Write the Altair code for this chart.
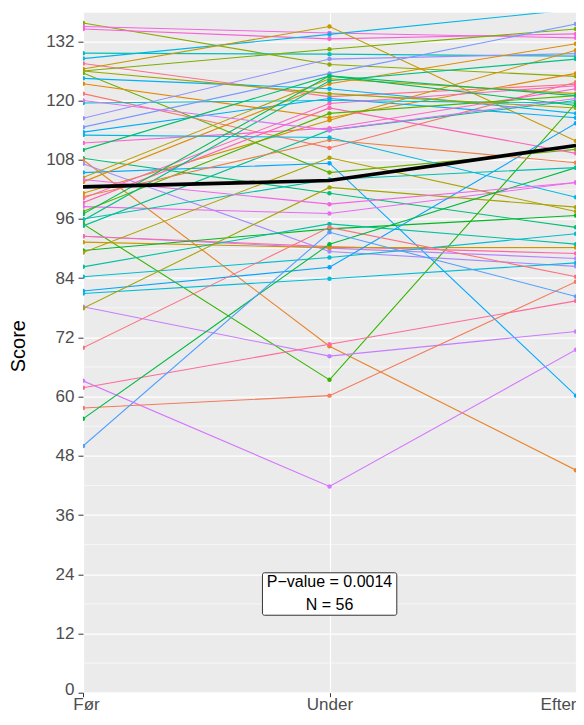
import math
import altair as alt
import pandas as pd

# ---------------- data ----------------
TIMES = ["Før", "Under", "Efter"]

# participant id (ggplot hue-palette index) and score at each time
IDS = [13, 47, 48, 32, 27, 54, 8, 14, 15, 33,
       4, 0, 28, 38, 39, 34, 49, 22, 3, 40,
       35, 9, 5, 6, 50, 51, 45, 16, 23, 17,
       24, 41, 52, 7, 18, 10, 25, 29, 36, 30,
       42, 11, 55, 43, 53, 1, 19, 37, 12, 20,
       26, 2, 31, 46, 44, 21]
FOER = [135.7, 135.0, 134.5, 128.5, 129.6, 127.5, 126.4, 126.0, 125.6, 124.5,
        123.4, 121.4, 119.5, 114.6, 116.4, 113.6, 111.4, 108.3, 108.0, 107.2,
        105.4, 104.4, 103.5, 101.2, 100.2, 99.3, 98.5, 97.5, 95.7, 95.0,
        94.6, 92.5, 92.5, 91.3, 89.6, 89.2, 86.3, 84.3, 81.4, 80.9,
        78.2, 77.9, 69.9, 63.2, 61.8, 57.7, 55.5, 50.0, 126.0, 97.0,
        96.0, 100.5, 113.0, 104.0, 120.0, 110.0]
UNDER = [127.3, 133.7, 132.5, 133.4, 129.4, 120.8, 135.0, 130.4, 105.4, 122.4,
         116.5, 110.4, 120.0, 125.5, 128.4, 120.4, 114.4, 101.2, 70.2, 89.4,
         107.3, 124.4, 123.4, 116.0, 119.4, 118.5, 97.1, 117.4, 124.0, 63.4,
         114.0, 90.1, 90.4, 90.2, 94.0, 108.4, 95.0, 88.2, 86.2, 83.9,
         68.2, 102.4, 94.3, 41.8, 70.6, 60.2, 90.9, 93.3, 121.4, 125.0,
         104.0, 112.0, 112.5, 99.0, 114.0, 125.0]
EFTER = [124.9, 132.7, 133.5, 138.5, 129.0, 123.3, 111.8, 134.5, 110.1, 117.4,
         125.5, 123.7, 119.5, 135.5, 129.5, 116.5, 122.4, 94.3, 45.1, 86.4,
         60.2, 121.4, 131.5, 130.2, 123.0, 109.3, 103.4, 121.0, 128.4, 119.5,
         120.0, 88.0, 89.0, 90.2, 96.7, 97.5, 90.9, 93.0, 115.4, 87.1,
         73.2, 98.4, 84.3, 69.5, 79.4, 83.3, 106.4, 80.3, 118.5, 119.0,
         106.4, 107.4, 100.4, 103.4, 120.4, 121.0]
MEAN = [102.5, 103.8, 110.9]

Y_TICKS = [0, 12, 24, 36, 48, 60, 72, 84, 96, 108, 120, 132]
Y_MINOR = [6, 18, 30, 42, 54, 66, 78, 90, 102, 114, 126]
LABEL_LINES = ["P\u2212value = 0.0014", "N = 56"]
LABEL_Y = [22.4, 17.8]
BOX_X = [0.728, 1.273]
BOX_Y = [15.7, 24.3]


# ---------------- ggplot2 hue palette ----------------
def hcl_hex(h, c=100.0, l=65.0):
    hr = math.radians(h)
    u = c * math.cos(hr)
    v = c * math.sin(hr)
    xn, yn, zn = 95.047, 100.0, 108.883
    den = xn + 15 * yn + 3 * zn
    un, vn = 4 * xn / den, 9 * yn / den
    Y = yn * ((l + 16) / 116) ** 3
    up = u / (13 * l) + un
    vp = v / (13 * l) + vn
    X = Y * 9 * up / (4 * vp)
    Z = Y * (12 - 3 * up - 20 * vp) / (4 * vp)
    x, y, z = X / 100, Y / 100, Z / 100
    rgb = [3.240479 * x - 1.537150 * y - 0.498535 * z,
           -0.969256 * x + 1.875992 * y + 0.041556 * z,
           0.055648 * x - 0.204043 * y + 1.057311 * z]
    out = []
    for ch in rgb:
        ch = 12.92 * ch if ch <= 0.0031308 else 1.055 * ch ** (1 / 2.4) - 0.055
        out.append(int(round(min(max(ch, 0), 1) * 255)))
    return "#%02X%02X%02X" % tuple(out)


N = len(IDS)
palette = [hcl_hex(15 + 360 * i / N) for i in range(N)]

# ---------------- tables ----------------
rows = []
for pid, a, b, c in zip(IDS, FOER, UNDER, EFTER):
    for t, val in enumerate([a, b, c]):
        rows.append({"id": pid, "t": t, "score": val})
df = pd.DataFrame(rows)
mean_df = pd.DataFrame({"t": [0, 1, 2], "score": MEAN})
minor_df = pd.DataFrame({"score": Y_MINOR})
text_df = pd.DataFrame({"t": [1, 1], "score": LABEL_Y, "txt": LABEL_LINES})
box_df = pd.DataFrame({"t": [BOX_X[0]], "t2": [BOX_X[1]], "score": [BOX_Y[0]], "score2": [BOX_Y[1]]})

FONT = "Liberation Sans"
label_expr = " : ".join(
    f"datum.value == {i} ? '{name}'" for i, name in enumerate(TIMES[:-1])
) + f" : '{TIMES[-1]}'"

xs = alt.Scale(domain=[0, 2], nice=False, zero=False)
ys = alt.Scale(domain=[0, 137.8], nice=False, zero=False)
xaxis = alt.Axis(values=[0, 1, 2], labelExpr=label_expr, title=None,
                 labelFontSize=17, labelPadding=0, grid=True, tickSize=4,
                 labelAlign={"condition": {"test": "datum.value == 2", "value": "right"},
                             "value": "center"},
                 labelOffset={"condition": {"test": "datum.value == 0", "value": 3},
                              "value": 0})
yaxis = alt.Axis(values=Y_TICKS, title="Score", labelFontSize=17, grid=True, tickSize=5,
                 titleFontSize=20, titleColor="black", titleFontWeight="normal",
                 titleX=-65, titleY=333, titleAlign="center", titleBaseline="middle",
                 titleAngle=270, labelPadding=4,
                 labelOffset={"condition": {"test": "datum.value == 0", "value": -3},
                              "value": 0})

X = alt.X("t:Q", scale=xs, axis=xaxis)
Y = alt.Y("score:Q", scale=ys, axis=yaxis)
color = alt.Color("id:N", scale=alt.Scale(domain=list(range(N)), range=palette), legend=None)

minor = alt.Chart(minor_df).mark_rule(color="white", strokeWidth=0.6, clip=True).encode(y=Y)
lines = alt.Chart(df).mark_line(strokeWidth=1.1, clip=True).encode(x=X, y=Y, color=color, detail="id:N")
points = alt.Chart(df).mark_circle(size=20, opacity=1, clip=True).encode(x=X, y=Y, color=color)
mean_line = alt.Chart(mean_df).mark_line(color="black", strokeWidth=3.6, clip=True).encode(x=X, y=Y)
box = alt.Chart(box_df).mark_rect(fill="white", stroke="#333333", strokeWidth=1, cornerRadius=2).encode(
    x=X, x2="t2:Q", y=Y, y2="score2:Q")
text = alt.Chart(text_df).mark_text(font=FONT, fontSize=16, color="black").encode(x=X, y=Y, text="txt:N")

chart = alt.layer(minor, lines, points, mean_line, box, text).properties(
    width=493, height=680,
    autosize=alt.AutoSizeParams(type="none"),
    padding={"left": 75, "top": 4.7, "right": 0, "bottom": 21.3},
).configure_view(fill="#EBEBEB", stroke=None).configure_axis(
    domain=False, tickColor="#333333", tickWidth=1,
    labelColor="#4D4D4D", labelFont=FONT, titleFont=FONT,
    gridColor="white", gridWidth=1.2,
)

chart.save("out.html", embed_options={"renderer": "svg", "actions": False})
